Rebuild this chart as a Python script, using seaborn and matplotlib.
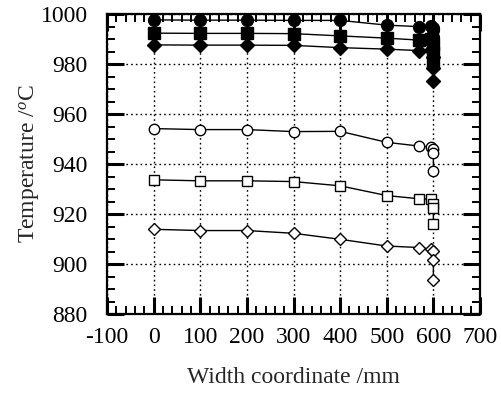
import matplotlib
matplotlib.use("Agg")
import matplotlib.pyplot as plt
import seaborn as sns
import pandas as pd
from matplotlib.ticker import MultipleLocator

# Width positions (mm); the edge cluster at 600 mm holds several readings
x_pos = [0, 100, 200, 300, 400, 500, 570, 595, 600, 600, 600]

# Temperatures (degC) for each curve
filled_circle = [997.7, 997.6, 997.6, 997.5, 997.5, 995.6, 995.0, 995.2, 994.6, 993.5, 991.0]
filled_square = [992.4, 992.3, 992.3, 992.2, 991.3, 990.4, 989.6, 990.0, 988.0, 984.5, 980.5]
filled_diamond = [987.7, 987.6, 987.6, 987.5, 986.6, 986.0, 985.4, 985.5, 983.0, 978.5, 973.2]
open_circle = [954.2, 953.8, 953.8, 953.0, 953.1, 948.7, 947.2, 946.8, 946.0, 944.5, 937.2]
open_square = [933.7, 933.3, 933.3, 933.0, 931.3, 927.4, 926.1, 926.0, 924.0, 922.3, 916.0]
open_diamond = [913.9, 913.4, 913.4, 912.3, 909.9, 907.2, 906.6, 905.9, 905.2, 901.6, 893.6]

series = [
    (filled_circle, "o", "black"),
    (filled_square, "s", "black"),
    (filled_diamond, "D", "black"),
    (open_circle, "o", "white"),
    (open_square, "s", "white"),
    (open_diamond, "D", "white"),
]

sns.set_style("ticks")
plt.rcParams["font.family"] = ["Liberation Serif", "DejaVu Serif"]
plt.rcParams["axes.unicode_minus"] = False
plt.rcParams["mathtext.fontset"] = "custom"
plt.rcParams["mathtext.rm"] = "Liberation Serif"
plt.rcParams["mathtext.it"] = "Liberation Serif:italic"

fig = plt.figure(figsize=(5.01, 3.93), dpi=100)
ax = fig.add_axes([0.2136, 0.201, 0.7445, 0.763])

for vals, mk, face in series:
    df = pd.DataFrame({"x": x_pos, "y": vals})
    if face == "black":
        ms = 7.5 if mk == "D" else 8.5
    else:
        ms = 6.5 if mk == "D" else 7.5
    sns.lineplot(data=df, x="x", y="y", ax=ax, estimator=None, sort=False,
                 color="black", linewidth=1.0, marker=mk, markersize=ms,
                 markerfacecolor=face, markeredgecolor="black",
                 markeredgewidth=1.0, zorder=3)

ax.set_xlim(-100, 700)
ax.set_ylim(880, 1000)
ax.xaxis.set_major_locator(MultipleLocator(100))
ax.xaxis.set_minor_locator(MultipleLocator(20))
ax.yaxis.set_major_locator(MultipleLocator(20))
ax.yaxis.set_minor_locator(MultipleLocator(5))

ax.grid(True, which="major", color="black", linestyle=(0, (1.2, 2.2)),
        linewidth=1.0, zorder=1)

ax.tick_params(which="both", direction="in", top=True, right=True,
               colors="black", labelsize=17)
ax.tick_params(which="major", length=12, width=2.2)
ax.tick_params(which="minor", length=6, width=1.4)
ax.tick_params(axis="x", which="major", pad=9)
ax.tick_params(axis="y", which="major", pad=14)

for sp in ax.spines.values():
    sp.set_linewidth(1.6)
    sp.set_color("black")

ax.set_xlabel("Width coordinate /mm", fontsize=17, labelpad=14)
ax.set_ylabel(r"Temperature /$^o$C", fontsize=17, labelpad=-1)

fig.savefig("out.png", dpi=100)
